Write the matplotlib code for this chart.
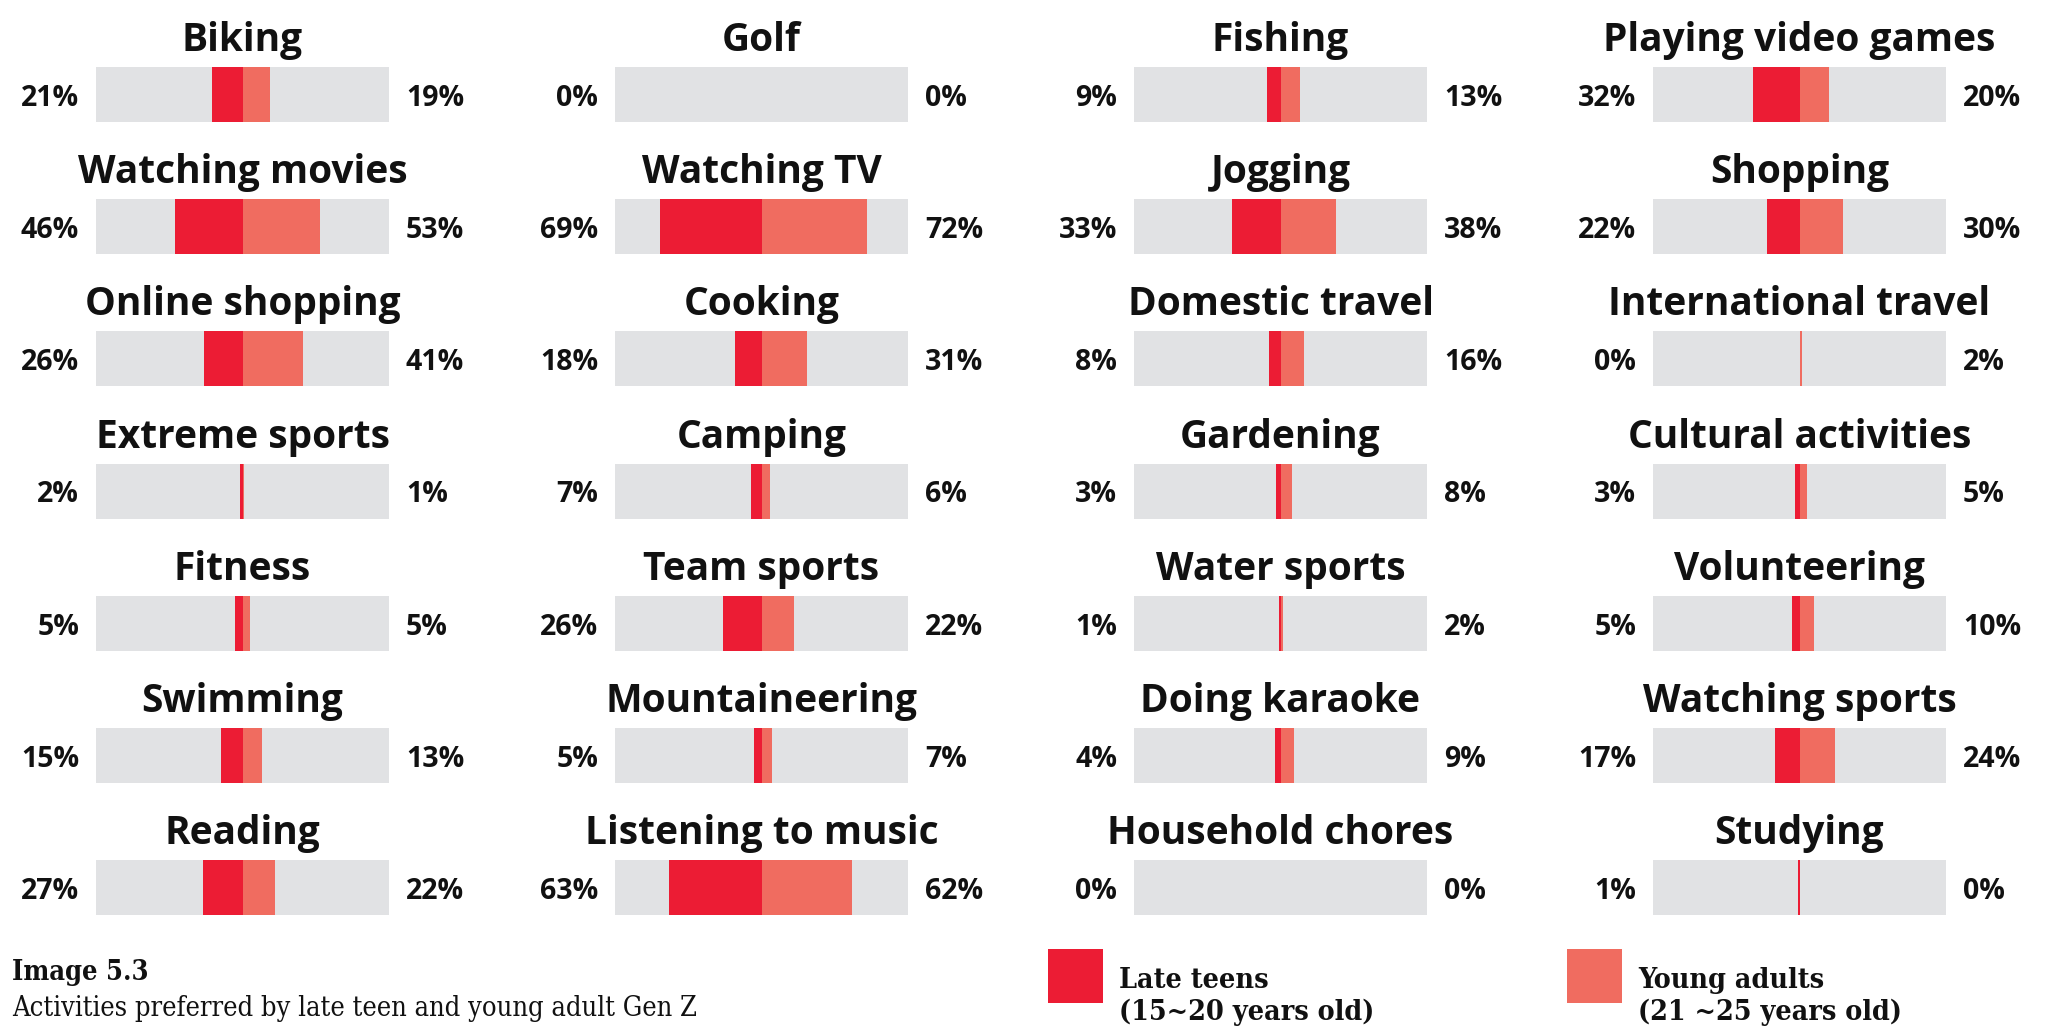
import matplotlib
matplotlib.use("Agg")
import matplotlib.pyplot as plt
from matplotlib.patches import Rectangle

# activities, one list per column of the grid
col1 = ["Biking", "Watching movies", "Online shopping", "Extreme sports",
        "Fitness", "Swimming", "Reading"]
col2 = ["Golf", "Watching TV", "Cooking", "Camping", "Team sports",
        "Mountaineering", "Listening to music"]
col3 = ["Fishing", "Jogging", "Domestic travel", "Gardening", "Water sports",
        "Doing karaoke", "Household chores"]
col4 = ["Playing video games", "Shopping", "International travel",
        "Cultural activities", "Volunteering", "Watching sports", "Studying"]

# late teens (15~20) and young adults (21~25), percent
teens1 = [21, 46, 26, 2, 5, 15, 27]
adults1 = [19, 53, 41, 1, 5, 13, 22]
teens2 = [0, 69, 18, 7, 26, 5, 63]
adults2 = [0, 72, 31, 6, 22, 7, 62]
teens3 = [9, 33, 8, 3, 1, 4, 0]
adults3 = [13, 38, 16, 8, 2, 9, 0]
teens4 = [32, 22, 0, 3, 5, 17, 1]
adults4 = [20, 30, 2, 5, 10, 24, 0]

columns = [col1, col2, col3, col4]
teens = [teens1, teens2, teens3, teens4]
adults = [adults1, adults2, adults3, adults4]

RED = "#EC1C34"
PINK = "#F06C60"
GREY = "#E1E2E4"
INK = "#111111"

W, H = 2047, 1030
fig = plt.figure(figsize=(W / 100, H / 100), dpi=100)

title_font = dict(family=["Open Sans", "DejaVu Sans"], weight="bold")

bar_x0, bar_w, col_step = 96, 293, 519
bar_top, bar_h, row_step = 67, 55, 132.2

for c, names in enumerate(columns):
    for r, name in enumerate(names):
        x0 = bar_x0 + c * col_step
        y0 = bar_top + r * row_step
        ax = fig.add_axes([x0 / W, 1 - (y0 + bar_h) / H, bar_w / W, bar_h / H])
        ax.set_xlim(-100, 100)
        ax.set_ylim(0, 1)
        ax.axis("off")
        ax.add_patch(Rectangle((-100, 0), 200, 1, color=GREY, lw=0))
        t = teens[c][r]
        a = adults[c][r]
        ax.barh(0.5, -t, height=1, left=0, color=RED, lw=0)
        ax.barh(0.5, a, height=1, left=0, color=PINK, lw=0)
        ax.text(0.5, 1.48, name, transform=ax.transAxes, ha="center",
                va="center", fontsize=28, color=INK, **title_font)
        ax.text(-0.058, 0.43, f"{t}%", transform=ax.transAxes, ha="right",
                va="center", fontsize=20.5, color=INK, **title_font)
        ax.text(1.058, 0.43, f"{a}%", transform=ax.transAxes, ha="left",
                va="center", fontsize=20.5, color=INK, **title_font)

cap_font = dict(family=["DejaVu Serif"], stretch="condensed")
fig.text(12 / W, 1 - 972 / H, "Image 5.3", ha="left", va="center",
         fontsize=19.5, weight="bold", color=INK, **cap_font)
fig.text(12 / W, 1 - 1009 / H,
         "Activities preferred by late teen and young adult Gen Z",
         ha="left", va="center", fontsize=19.5, color=INK, **cap_font)

legend_items = [(1048, RED, "Late teens\n(15~20 years old)"),
                (1567, PINK, "Young adults\n(21 ~25 years old)")]
for lx, col, label in legend_items:
    fig.patches.append(Rectangle((lx / W, 1 - 1003 / H), 55 / W, 54 / H,
                                 transform=fig.transFigure, color=col, lw=0))
    fig.text((lx + 71) / W, 1 - 967 / H, label, ha="left", va="top",
             fontsize=20.5, weight="bold", color=INK, linespacing=1.2,
             **cap_font)

fig.savefig("out.png", dpi=100)
